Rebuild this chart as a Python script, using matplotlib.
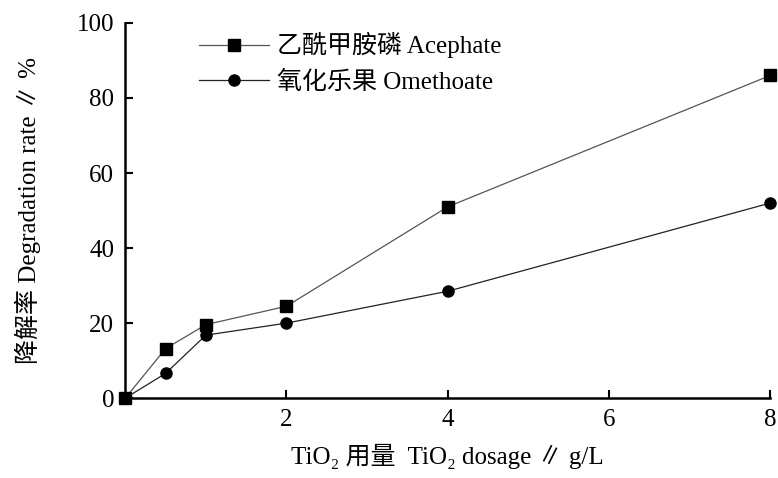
import matplotlib
matplotlib.use("Agg")
import matplotlib.pyplot as plt

plt.rcParams['font.family'] = ['Liberation Serif', 'Noto Sans CJK SC', 'DejaVu Sans']

# data
dosage = [0, 0.5, 1, 2, 4, 8]
acephate = [0, 13.2, 19.6, 24.5, 51.0, 86.0]
omethoate = [0, 6.6, 16.8, 20.0, 28.5, 52.0]
labels = ['乙酰甲胺磷 Acephate', '氧化乐果 Omethoate']
xticks = [2, 4, 6, 8]
yticks = [0, 20, 40, 60, 80, 100]

fig = plt.figure(figsize=(7.78, 4.78), dpi=100)
ax = fig.add_axes([0.161, 0.167, 0.829, 0.785])

ax.plot(dosage, acephate, marker='s', markersize=8, color='#555555', lw=0.9,
        markerfacecolor='black', markeredgecolor='black', label=labels[0], clip_on=False)
ax.plot(dosage, omethoate, marker='o', markersize=8, color='#222222', lw=0.9,
        markerfacecolor='black', markeredgecolor='black', label=labels[1], clip_on=False)

ax.set_xlim(0, 8)
ax.set_ylim(0, 100)
ax.set_xticks(xticks)
ax.set_yticks(yticks)
ax.tick_params(direction='in', length=6, width=1.5, labelsize=18, pad=8)
for s in ['top', 'right']:
    ax.spines[s].set_visible(False)
for s in ['left', 'bottom']:
    ax.spines[s].set_linewidth(1.8)

ax.set_xlabel('TiO₂ 用量  TiO₂ dosage ∥ g/L', fontsize=18, labelpad=9)
ax.set_ylabel('降解率 Degradation rate ∥ %', fontsize=18, labelpad=26)

ax.legend(loc='upper left', bbox_to_anchor=(0.08, 1.035), frameon=False, fontsize=18,
          handlelength=2.8, labelspacing=0.5, handletextpad=0.3)

fig.savefig('out.png', dpi=100)
